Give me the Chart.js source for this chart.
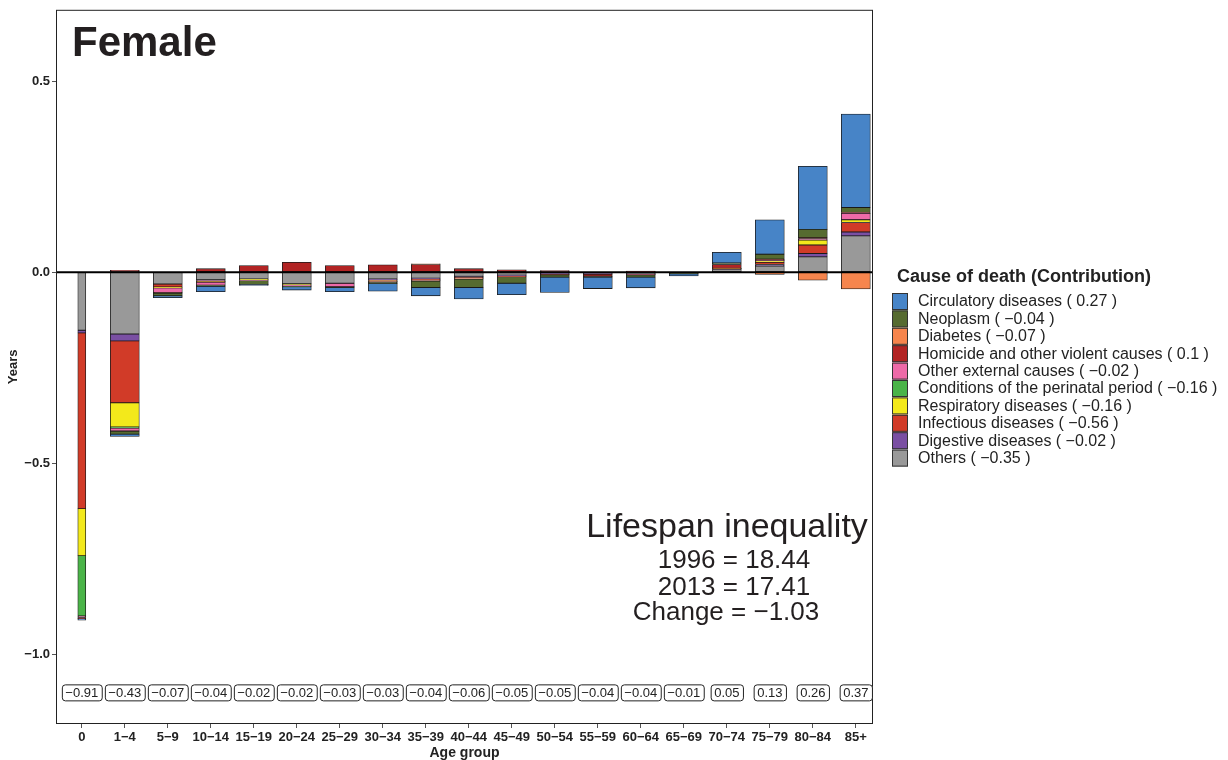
<!DOCTYPE html>
<html>
<head>
<meta charset="utf-8">
<script src="https://cdn.jsdelivr.net/npm/chart.js@4.4.1/dist/chart.umd.min.js"></script>
<style>
  body { margin: 0; background: #fff; }
  canvas { display: block; }
</style>
</head>
<body>
<canvas id="chart" width="1228" height="760"></canvas>
<script>
// age groups on the x axis
const ageGroups = ['0', '1−4', '5−9', '10−14', '15−19', '20−24', '25−29', '30−34', '35−39', '40−44',
  '45−49', '50−54', '55−59', '60−64', '65−69', '70−74', '75−79', '80−84', '85+'];

// contribution of each cause by age group (years)
const others       = [-0.152, -0.162, -0.031, -0.020, -0.018, -0.030, -0.029, -0.018, -0.016, -0.011, -0.008, -0.002, -0.003, -0.004, -0.002, 0.007, 0.016, 0.040, 0.095];
const digestive    = [-0.007, -0.018, 0, -0.002, 0, 0, 0, -0.002, -0.002, -0.002, -0.002, -0.004, -0.002, -0.002, 0, 0.001, 0.004, 0.009, 0.010];
const infectious   = [-0.460, -0.162, -0.008, -0.002, 0, 0, 0, -0.002, -0.002, -0.002, -0.002, -0.001, 0, -0.001, 0, 0.001, 0.006, 0.022, 0.025];
const respiratory  = [-0.123, -0.063, -0.002, -0.002, -0.002, -0.003, 0, -0.002, -0.001, -0.001, 0, 0, 0, 0, 0, 0.001, 0.004, 0.013, 0.007];
const perinatal    = [-0.158, -0.003, 0, 0, 0, 0, 0, 0, 0, 0, 0, 0, 0, 0, 0, 0, 0, 0, 0];
const otherExt     = [-0.004, -0.008, -0.012, -0.008, -0.002, -0.003, -0.009, -0.002, -0.002, -0.002, 0, 0, 0, 0, 0, 0, 0.002, 0.004, 0.017];
const homicide     = [-0.003, 0.005, -0.002, 0.009, 0.017, 0.026, 0.017, 0.019, 0.020, 0.009, 0.006, 0.004, -0.006, 0.003, 0, 0.010, 0.002, 0.002, 0.002];
const diabetes     = [0, 0, 0, 0, 0, 0, 0, 0, 0.002, 0, 0, 0, 0, 0, 0, 0, -0.006, -0.021, -0.044];
const neoplasm     = [0, -0.008, -0.007, -0.003, -0.010, -0.002, -0.002, -0.004, -0.017, -0.022, -0.017, -0.006, -0.002, -0.006, -0.002, 0.004, 0.013, 0.022, 0.013];
const circulatory  = [-0.004, -0.006, -0.005, -0.014, -0.003, -0.009, -0.011, -0.020, -0.022, -0.030, -0.030, -0.040, -0.030, -0.028, -0.006, 0.028, 0.090, 0.165, 0.245];

// totals per age group, printed at the bottom
const totals = [-0.91, -0.43, -0.07, -0.04, -0.02, -0.02, -0.03, -0.03, -0.04, -0.06, -0.05, -0.05, -0.04, -0.04, -0.01, 0.05, 0.13, 0.26, 0.37];

// legend: name and overall contribution, in stacking order (nearest zero first)
const causeNames = ['Others', 'Digestive diseases', 'Infectious diseases', 'Respiratory diseases',
  'Conditions of the perinatal period', 'Other external causes', 'Homicide and other violent causes',
  'Diabetes', 'Neoplasm', 'Circulatory diseases'];
const causeTotals = [-0.35, -0.02, -0.56, -0.16, -0.16, -0.02, 0.1, -0.07, -0.04, 0.27];
const causeColors = ['#999999', '#7a4fa3', '#d13b28', '#f3e91b', '#4ab448', '#ee6aa8', '#b22424', '#f6854d', '#566b30', '#4784c7'];
const causeValues = [others, digestive, infectious, respiratory, perinatal, otherExt, homicide, diabetes, neoplasm, circulatory];

const yTicks = [-1, -0.5, 0, 0.5];

const fmt = v => (v < 0 ? '−' : '') + Math.abs(v).toString();
const fmtTick = v => (v < 0 ? '−' : '') + Math.abs(v).toFixed(1);

const datasets = [];
causeValues.forEach((vals, c) => {
  // age 0 gets a narrow bar, the rest the normal width
  datasets.push({
    label: causeNames[c],
    data: vals.map((v, i) => ({ x: i, y: (i === 0 || v === 0) ? null : v })),
    backgroundColor: causeColors[c],
    borderColor: '#1a1a1a',
    borderWidth: 0.8,
    borderSkipped: false,
    barThickness: 29,
    grouped: false
  });
  datasets.push({
    label: causeNames[c] + ' (0)',
    data: vals.map((v, i) => ({ x: i, y: (i !== 0 || v === 0) ? null : v })),
    backgroundColor: causeColors[c],
    borderColor: '#1a1a1a',
    borderWidth: 0.8,
    borderSkipped: false,
    barThickness: 8,
    grouped: false
  });
});

const extras = {
  id: 'extras',
  afterDatasetsDraw(chart) {
    const { ctx, chartArea: a, scales: { x, y } } = chart;
    ctx.save();
    // zero line
    ctx.strokeStyle = '#000';
    ctx.lineWidth = 2;
    ctx.beginPath();
    ctx.moveTo(a.left, y.getPixelForValue(0));
    ctx.lineTo(a.right, y.getPixelForValue(0));
    ctx.stroke();
    // panel border
    ctx.lineWidth = 1;
    ctx.strokeStyle = '#222';
    ctx.strokeRect(a.left + 0.5, a.top + 0.5, a.right - a.left - 1, a.bottom - a.top - 1);

    // title
    ctx.fillStyle = '#231f20';
    ctx.font = 'bold 42px "Liberation Sans", Arial, sans-serif';
    ctx.textAlign = 'left';
    ctx.textBaseline = 'alphabetic';
    ctx.fillText('Female', 72, 56);

    // lifespan annotation
    ctx.textAlign = 'center';
    ctx.font = '34px "Liberation Sans", Arial, sans-serif';
    ctx.fillText('Lifespan inequality', 727, 537);
    ctx.font = '26px "Liberation Sans", Arial, sans-serif';
    ctx.fillText('1996 = 18.44', 734, 568);
    ctx.fillText('2013 = 17.41', 734, 595);
    ctx.fillText('Change = −1.03', 726, 620);

    // totals in boxes
    ctx.font = '13px "Liberation Sans", Arial, sans-serif';
    ctx.textBaseline = 'middle';
    const ly = y.getPixelForValue(-1.1);
    totals.forEach((t, i) => {
      const s = fmt(t);
      const cx = x.getPixelForValue(i);
      const w = ctx.measureText(s).width + 7;
      ctx.beginPath();
      ctx.roundRect(cx - w / 2 + 0.5, ly - 8 + 0.5, w, 16, 3);
      ctx.fillStyle = '#fff';
      ctx.fill();
      ctx.strokeStyle = '#222';
      ctx.lineWidth = 1;
      ctx.stroke();
      ctx.fillStyle = '#222';
      ctx.fillText(s, cx, ly + 1);
    });

    // legend
    ctx.textAlign = 'left';
    ctx.fillStyle = '#222';
    ctx.font = 'bold 18px "Liberation Sans", Arial, sans-serif';
    ctx.textBaseline = 'alphabetic';
    ctx.fillText('Cause of death (Contribution)', 897, 282);
    ctx.font = '16px "Liberation Sans", Arial, sans-serif';
    ctx.textBaseline = 'middle';
    const order = causeNames.map((_, i) => i).reverse();
    order.forEach((c, k) => {
      const top = 293 + k * 17.4;
      ctx.fillStyle = causeColors[c];
      ctx.fillRect(892, top, 16, 17);
      ctx.strokeStyle = '#333';
      ctx.lineWidth = 1;
      ctx.strokeRect(892.5, top + 0.5, 15, 16);
      ctx.fillStyle = '#222';
      ctx.fillText(causeNames[c] + ' ( ' + fmt(causeTotals[c]) + ' )', 918, top + 9);
    });
    ctx.restore();
  }
};

new Chart(document.getElementById('chart'), {
  type: 'bar',
  data: { datasets },
  options: {
    responsive: false,
    animation: false,
    layout: { padding: { top: 8, right: 355, left: 0, bottom: 0 } },
    plugins: { legend: { display: false }, tooltip: { enabled: false } },
    scales: {
      x: {
        type: 'linear',
        stacked: true,
        offset: false,
        min: -0.6,
        max: 18.4,
        afterBuildTicks: s => { s.ticks = ageGroups.map((_, i) => ({ value: i })); },
        afterFit: s => { s.height = 36; },
        ticks: {
          callback: v => ageGroups[v],
          autoSkip: false,
          maxRotation: 0,
          padding: 2,
          color: '#222',
          font: { family: '"Liberation Sans", Arial, sans-serif', size: 13, weight: 'bold' }
        },
        grid: { offset: false, drawOnChartArea: false, drawTicks: true, tickLength: 4, color: '#555' },
        border: { display: false },
        title: {
          display: true,
          text: 'Age group',
          color: '#222',
          padding: { top: 0, bottom: 0 },
          font: { family: '"Liberation Sans", Arial, sans-serif', size: 14, weight: 'bold', lineHeight: 1 }
        }
      },
      y: {
        stacked: true,
        min: -1.1828,
        max: 0.6867,
        afterBuildTicks: s => { s.ticks = yTicks.map(v => ({ value: v })); },
        afterFit: s => { s.width = 56; },
        ticks: {
          callback: v => fmtTick(v),
          padding: 2,
          color: '#222',
          font: { family: '"Liberation Sans", Arial, sans-serif', size: 13, weight: 'bold' }
        },
        grid: { drawOnChartArea: false, drawTicks: true, tickLength: 4, color: '#555' },
        border: { display: false },
        title: {
          display: true,
          text: 'Years',
          color: '#222',
          padding: { top: 7, bottom: 0 },
          font: { family: '"Liberation Sans", Arial, sans-serif', size: 13, weight: 'bold', lineHeight: 1 }
        }
      }
    }
  },
  plugins: [extras]
});
</script>
</body>
</html>
